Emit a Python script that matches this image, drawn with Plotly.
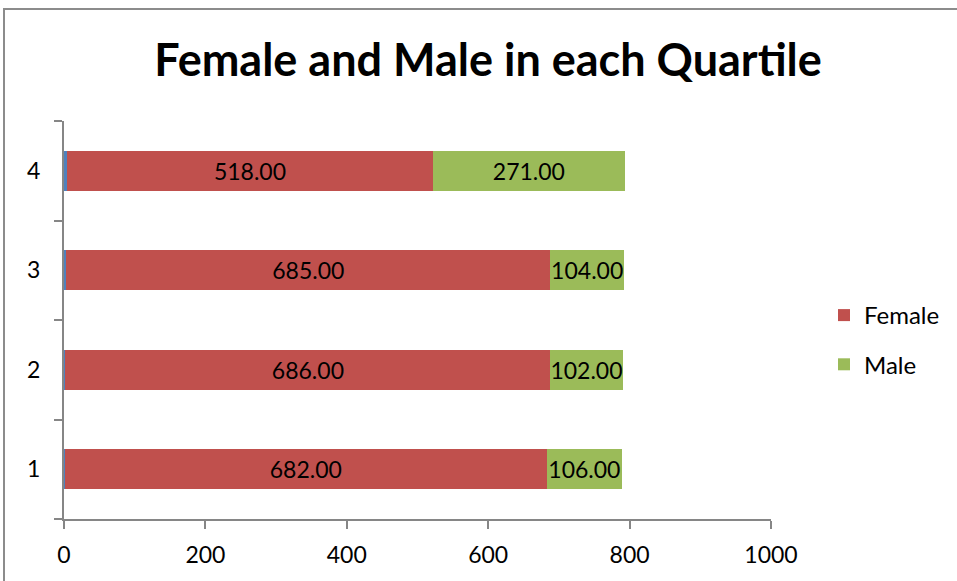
import plotly.graph_objects as go

quartiles = ["1", "2", "3", "4"]
quartile_vals = [1, 2, 3, 4]
female = [682, 686, 685, 518]
male = [106, 102, 104, 271]

FONT = "Lato, 'Open Sans', sans-serif"
FS = 23

fig = go.Figure()
fig.add_trace(go.Bar(y=quartiles, x=quartile_vals, orientation="h", name="Quartile",
                     marker=dict(color="#4F81BD", line=dict(width=0)), showlegend=False,
                     hoverinfo="skip"))
fig.add_trace(go.Bar(y=quartiles, x=female, orientation="h", name="Female", legendgroup="f",
                     marker=dict(color="#C0504D", line=dict(width=0)),
                     text=[f"{v:.2f}" for v in female], textposition="inside",
                     insidetextanchor="middle", textfont=dict(color="black", size=FS, family=FONT)))
fig.add_trace(go.Bar(y=quartiles, x=male, orientation="h", name="Male", legendgroup="m",
                     marker=dict(color="#9BBB59", line=dict(width=0)),
                     text=[f"{v:.2f}" for v in male], textposition="inside",
                     insidetextanchor="middle", textfont=dict(color="black", size=FS, family=FONT)))

W, H = 957, 581
L, R, T, B = 64, 186, 121, 62
pw, ph = W - L - R, H - T - B

def px(x):
    return (x - L) / pw

def py(y):
    return (H - B - y) / ph

fig.update_layout(
    width=W, height=H,
    margin=dict(l=L, r=R, t=T, b=B),
    barmode="stack", bargap=0.6,
    plot_bgcolor="white", paper_bgcolor="white",
    font=dict(family=FONT, size=FS, color="black"),
    uniformtext=dict(minsize=FS, mode="show"),
    title=dict(text="<b>Female and Male in each Quartile</b>", x=488 / W, xanchor="center",
               y=1 - 60 / H, yanchor="middle", font=dict(size=45, family=FONT, color="black")),
    legend=dict(x=px(824), y=py(293), xanchor="left", yanchor="top", traceorder="grouped",
                tracegroupgap=15, font=dict(size=24, family=FONT)),
    xaxis=dict(range=[0, 1000], dtick=200, showgrid=False, zeroline=False,
               showline=True, linecolor="#868686", linewidth=2,
               ticks="outside", ticklen=8, tickwidth=2, tickcolor="#868686",
               tickfont=dict(size=FS), ticklabelstandoff=6),
    yaxis=dict(type="category", showgrid=False, zeroline=False,
               showline=True, linecolor="#868686", linewidth=2,
               ticks="outside", ticklen=8, tickwidth=2, tickcolor="#868686",
               tickson="boundaries", tickfont=dict(size=FS), ticklabelstandoff=17),
)

fig.add_shape(type="rect", xref="paper", yref="paper",
              x0=px(4), x1=px(980), y0=py(600), y1=py(9),
              line=dict(color="#8C8C8C", width=2), fillcolor="rgba(0,0,0,0)", layer="below")

fig.write_html("out.html", config={"displayModeBar": False},
               post_script="document.body.style.margin='0';document.body.style.overflow='hidden';")
